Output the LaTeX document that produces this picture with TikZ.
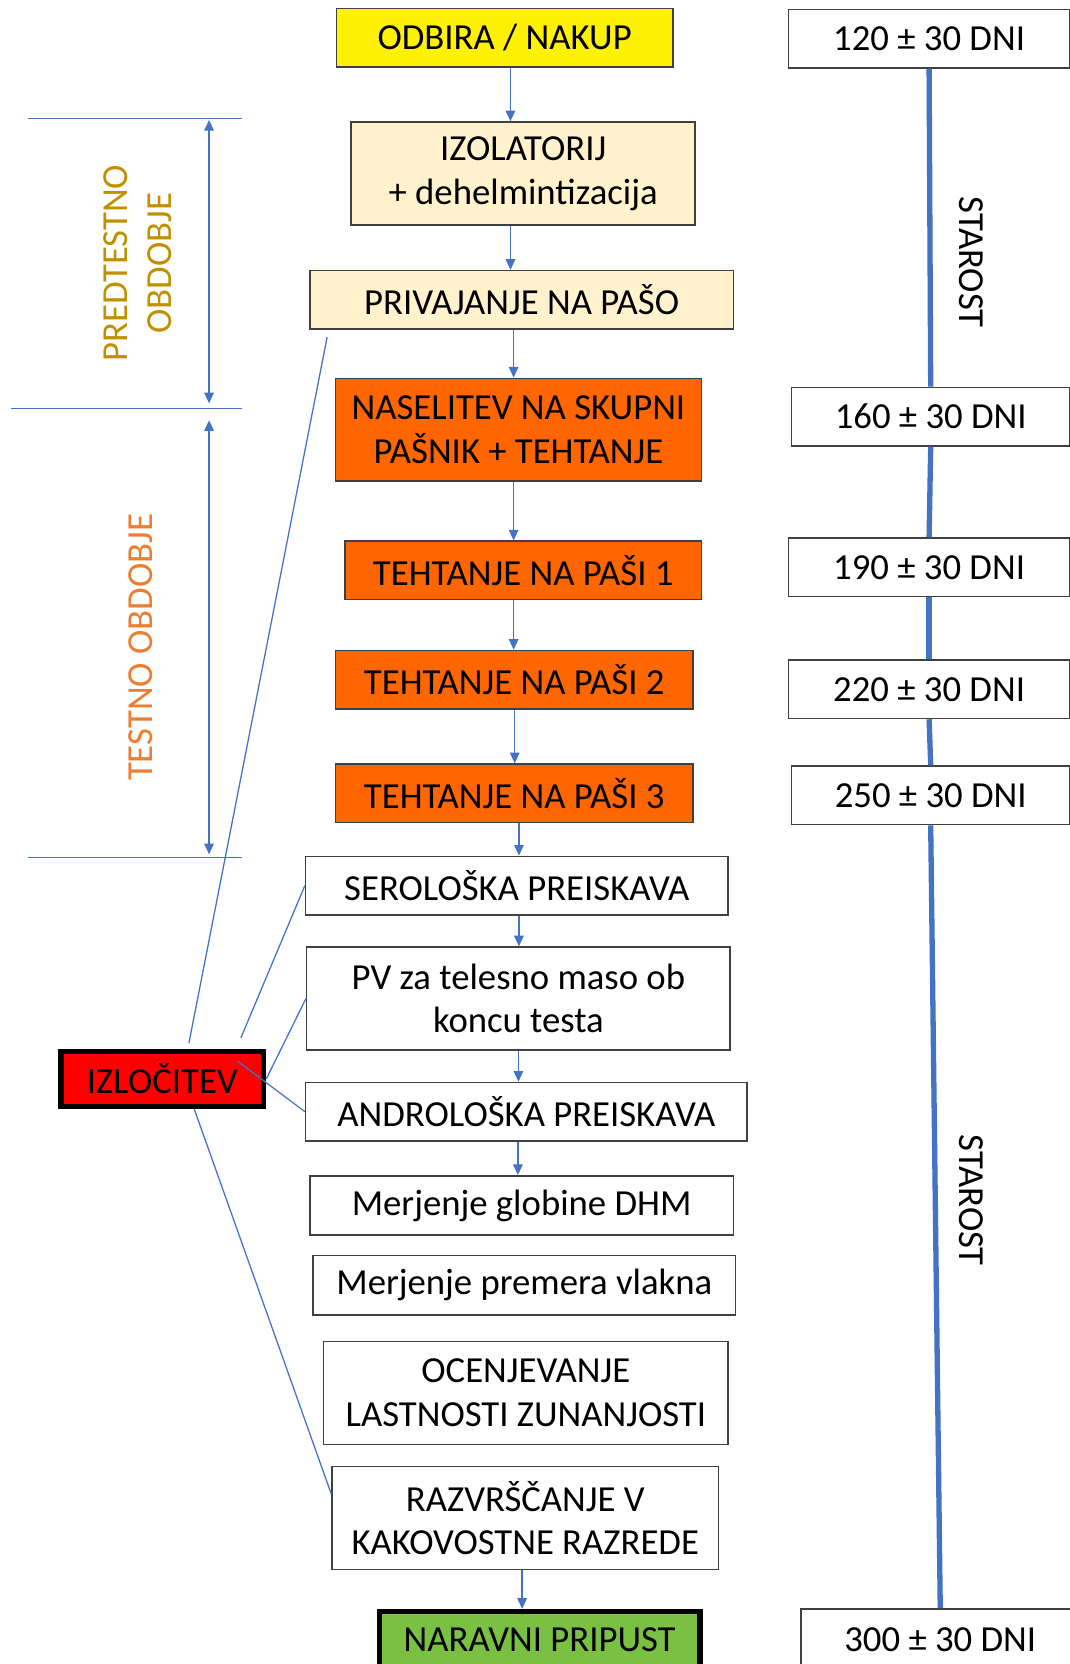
\documentclass[tikz,border=0pt]{standalone}
\usepackage{fontspec}
\setmainfont{Carlito}
\usetikzlibrary{arrows.meta}

\definecolor{flowblue}{RGB}{68,114,196}
\definecolor{boxline}{RGB}{64,64,64}
\definecolor{beige}{RGB}{255,242,204}
\definecolor{orangebox}{RGB}{255,102,0}
\definecolor{greenbox}{RGB}{122,193,67}
\definecolor{predgold}{RGB}{191,144,0}
\definecolor{testorange}{RGB}{237,125,49}

\tikzset{
  box/.style={draw=boxline, line width=0.75pt, inner sep=0pt, align=center,
    minimum height=27.5pt, font=\fontsize{17.3}{20.5}\selectfont},
  tallbox/.style={box, minimum height=48.5pt},
  daybox/.style={box, minimum width=132.5pt},
  markbox/.style={box, draw=black, line width=2.5pt},
  flow/.style={flowblue, line width=0.6pt, -{Triangle[width=4.5pt,length=5pt]}},
  span/.style={flowblue, line width=0.6pt, {Triangle[width=4.5pt,length=5pt]}-{Triangle[width=4.5pt,length=5pt]}},
  izlline/.style={flowblue, line width=0.6pt},
  timeline/.style={flowblue, line width=2.5pt},
  sidetext/.style={font=\fontsize{17.3}{20.5}\selectfont, align=center}
}

\begin{document}
\begin{tikzpicture}[x=0.5pt,y=-0.5pt]
  \useasboundingbox (0,0) rectangle (1008,1568);

  % glavni potek
  \node[box, fill=yellow, minimum width=158.5pt] (odbira) at (475.5,35.5) {ODBIRA / NAKUP};
  \node[tallbox, fill=beige, minimum width=162pt] (izol) at (493,163.5) {IZOLATORIJ\\+ dehelmintizacija};
  \node[box, fill=beige, minimum width=199.5pt] (priv) at (491.5,282.5) {PRIVAJANJE NA PAŠO};
  \node[tallbox, fill=orangebox, minimum width=172.5pt] (nas) at (488.5,405) {NASELITEV NA SKUPNI\\PAŠNIK + TEHTANJE};
  \node[box, fill=orangebox, minimum width=168pt] (teh1) at (493,537.5) {TEHTANJE NA PAŠI 1};
  \node[box, fill=orangebox, minimum width=168.5pt] (teh2) at (484.5,640.5) {TEHTANJE NA PAŠI 2};
  \node[box, fill=orangebox, minimum width=168.5pt] (teh3) at (484.5,747.5) {TEHTANJE NA PAŠI 3};
  \node[box, minimum width=199pt] (sero) at (487,834.5) {SEROLOŠKA PREISKAVA};
  \node[tallbox, minimum width=199.5pt] (pv) at (488.5,941) {PV za telesno maso ob\\koncu testa};
  \node[box, minimum width=208pt] (andro) at (496,1047.5) {ANDROLOŠKA PREISKAVA};
  \node[box, minimum width=199.5pt, minimum height=28pt] (dhm) at (491.5,1136) {Merjenje globine DHM};
  \node[box, minimum width=199pt, minimum height=28pt] (vlakna) at (494,1211) {Merjenje premera vlakna};
  \node[tallbox, minimum width=190.5pt] (ocen) at (495.5,1312.5) {OCENJEVANJE\\LASTNOSTI ZUNANJOSTI};
  \node[tallbox, minimum width=182pt] (razv) at (495,1430.5) {RAZVRŠČANJE V\\KAKOVOSTNE RAZREDE};
  \node[markbox, fill=greenbox, minimum width=151pt, minimum height=27pt] (pripust) at (508.5,1545.5) {NARAVNI PRIPUST};

  \foreach \a/\b/\dx in {odbira/izol/2.75, izol/priv/-6, priv/nas/-3.75, nas/teh1/-2.25,
      teh1/teh2/-4.5, teh2/teh3/0.25, teh3/sero/2.25, sero/pv/1, pv/andro/0,
      andro/dhm/-4, razv/pripust/-1.5}
    \draw[flow] ([xshift=\dx pt]\a.south) -- ([xshift=\dx pt]\a.south |- \b.north);

  % starost
  \node[daybox] (d120) at (875.5,36.5) {120 ± 30 DNI};
  \node[daybox, minimum width=131pt] (d160) at (877,392.5) {160 ± 30 DNI};
  \node[daybox] (d190) at (875.5,534.5) {190 ± 30 DNI};
  \node[daybox] (d220) at (875.5,649.5) {220 ± 30 DNI};
  \node[daybox, minimum width=131pt] (d250) at (877,749.5) {250 ± 30 DNI};
  \node[daybox, minimum width=131pt, minimum height=29pt] (d300) at (886,1545) {300 ± 30 DNI};

  \draw[timeline] (d120.south) -- (d160.north);
  \draw[timeline] (d160.south) -- (d190.north);
  \draw[timeline] (d190.south) -- (d220.north);
  \draw[timeline] (d220.south) -- (d250.north);
  \draw[timeline] (d250.south) -- (d300.north);

  \node[sidetext, rotate=-90] (star1) at (915,247) {STAROST};
  \node[sidetext, rotate=-90] (star2) at (915,1131) {STAROST};

  % obdobja
  \coordinate (l1a) at (26,112);  \coordinate (l1b) at (228,112);
  \coordinate (l2a) at (10,385);  \coordinate (l2b) at (228,385);
  \coordinate (l3a) at (26,808);  \coordinate (l3b) at (228,808);
  \draw[izlline] (l1a) -- (l1b);
  \draw[izlline] (l2a) -- (l2b);
  \draw[izlline] (l3a) -- (l3b);
  \draw[span] (197,113) -- (197,380);
  \draw[span] (197,396) -- (197,805);

  \node[sidetext, rotate=90, text=predgold] (predtest) at (130,248) {PREDTESTNO\\OBDOBJE};
  \node[sidetext, rotate=90, text=testorange] (testno) at (133,610) {TESTNO OBDOBJE};

  % izlocitev
  \node[markbox, fill=red, minimum width=95.5pt, minimum height=26pt] (izl) at (153,1016.5) {IZLOČITEV};
  \draw[izlline] ([xshift=12.5pt,yshift=2.5pt]izl.north) -- ([xshift=8.5pt,yshift=-3.5pt]priv.south west);
  \draw[izlline] ([xshift=-12pt,yshift=5pt]izl.north east) -- (sero.west);
  \draw[izlline] (izl.east) -- (pv.west);
  \draw[izlline] ([xshift=-13.5pt,yshift=8.25pt]izl.east) -- (andro.west);
  \draw[izlline] ([xshift=15pt]izl.south) -- ([yshift=11.25pt]razv.west);
\end{tikzpicture}
\end{document}
